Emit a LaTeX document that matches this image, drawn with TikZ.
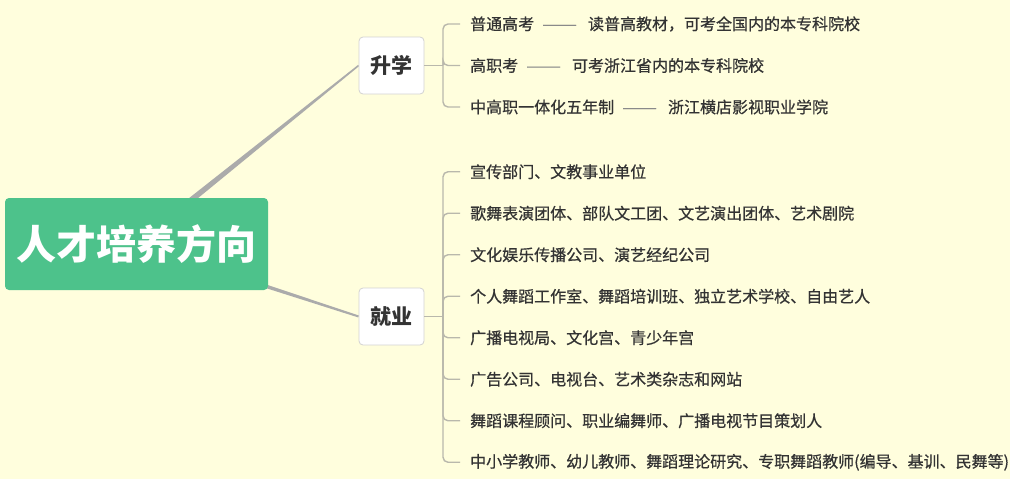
\documentclass[tikz,border=0pt]{standalone}
\usepackage{fontspec}
\newfontfamily\cjk{Noto Sans CJK SC}
\newfontfamily\cjkmed{Noto Sans CJK SC}[FakeBold=0.6]
\usetikzlibrary{calc}
\definecolor{paper}{HTML}{FFFEDD}
\definecolor{rootgreen}{HTML}{4DC28B}
\definecolor{linkgray}{HTML}{ABABAB}
\definecolor{bracketgray}{HTML}{B9B8AC}
\definecolor{boxline}{HTML}{D2D2D2}
\definecolor{inkgray}{HTML}{333333}
\definecolor{dashgray}{HTML}{8A8A8A}
\pgfdeclarelayer{bg}
\pgfsetlayers{bg,main}
\newcommand{\leafdash}{\hspace{8pt}{\color{dashgray}\scalebox{1.3}[1]{——}}\hspace{11pt}}
\tikzset{
  root/.style={fill=rootgreen, rounded corners=4pt, minimum width=263pt, minimum height=92pt,
    inner sep=0pt, text=white, font=\cjk\bfseries\fontsize{40}{42}\selectfont},
  branch/.style={fill=white, draw=boxline, line width=0.8pt, rounded corners=4pt,
    minimum width=65pt, minimum height=57pt, inner sep=0pt, text=inkgray,
    font=\cjk\bfseries\fontsize{21}{24}\selectfont},
  leaf/.style={anchor=west, inner xsep=10pt, inner ysep=2pt, text=inkgray,
    font=\cjkmed\fontsize{16}{18}\selectfont},
  bracket/.style={draw=bracketgray, line width=1.4pt, rounded corners=5pt},
}
\begin{document}
\begin{tikzpicture}[x=1pt,y=-1pt]
    \useasboundingbox (0,0) rectangle (1010,479);
    \begin{pgfonlayer}{bg}
        \fill[paper] (0,0) rectangle (1010,479);
    \end{pgfonlayer}

    % centre and the two branches
    \node[root] (root) at (136.5,244) {人才培养方向};
    \node[branch] (study) at (391.5,65.5) {升学};
    \node[branch] (work) at (391.5,316.5) {就业};

    % tapered links, behind the boxes
    \begin{pgfonlayer}{bg}
        \fill[linkgray] ($(root.center)!3.5pt!90:(study.west)$) -- ($(study.west)!0.8pt!-90:(root.center)$)
            -- ($(study.west)!0.8pt!90:(root.center)$) -- ($(root.center)!3.5pt!-90:(study.west)$) -- cycle;
        \fill[linkgray] ($(root.center)!2.8pt!90:(work.west)$) -- ($(work.west)!1pt!-90:(root.center)$)
            -- ($(work.west)!1pt!90:(root.center)$) -- ($(root.center)!2.8pt!-90:(work.west)$) -- cycle;
    \end{pgfonlayer}

    % 升学
    \node[leaf] (s1) at (460,24) {普通高考\leafdash 读普高教材，可考全国内的本专科院校};
    \node[leaf] (s2) at (460,65.5) {高职考\leafdash 可考浙江省内的本专科院校};
    \node[leaf] (s3) at (460,107) {中高职一体化五年制\leafdash 浙江横店影视职业学院};
    \coordinate (sj) at (443,65.5);
    \draw[bracket] (study.east) -- (sj);
    \draw[bracket] (sj) |- (s1.west);
    \draw[bracket] (sj) |- (s2.west);
    \draw[bracket] (sj) |- (s3.west);

    % 就业
    \node[leaf] (w1) at (460,171.75) {宣传部门、文教事业单位};
    \node[leaf] (w2) at (460,213.25) {歌舞表演团体、部队文工团、文艺演出团体、艺术剧院};
    \node[leaf] (w3) at (460,254.75) {文化娱乐传播公司、演艺经纪公司};
    \node[leaf] (w4) at (460,296.25) {个人舞蹈工作室、舞蹈培训班、独立艺术学校、自由艺人};
    \node[leaf] (w5) at (460,337.75) {广播电视局、文化宫、青少年宫};
    \node[leaf] (w6) at (460,379.25) {广告公司、电视台、艺术类杂志和网站};
    \node[leaf] (w7) at (460,420.75) {舞蹈课程顾问、职业编舞师、广播电视节目策划人};
    \node[leaf] (w8) at (460,462.25) {中小学教师、幼儿教师、舞蹈理论研究、专职舞蹈教师(编导、基训、民舞等)};
    \coordinate (wj) at (443,316.5);
    \draw[bracket] (work.east) -- (wj);
    \draw[bracket] (wj) |- (w1.west);
    \draw[bracket] (wj) |- (w2.west);
    \draw[bracket] (wj) |- (w3.west);
    \draw[bracket] (wj) |- (w4.west);
    \draw[bracket] (wj) |- (w5.west);
    \draw[bracket] (wj) |- (w6.west);
    \draw[bracket] (wj) |- (w7.west);
    \draw[bracket] (wj) |- (w8.west);
\end{tikzpicture}
\end{document}
